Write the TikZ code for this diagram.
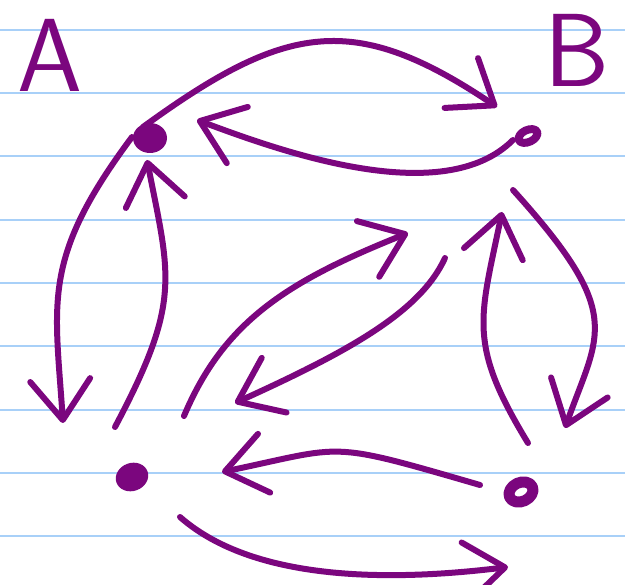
\documentclass[tikz,border=0pt]{standalone}
\usetikzlibrary{arrows.meta,shapes.geometric}
\definecolor{InkPurple}{HTML}{7B067E}
\definecolor{RuleBlue}{HTML}{A8D0F8}

\begin{document}
\begin{tikzpicture}[x=1pt,y=-1pt,line cap=round,line join=round,>={Straight Barb[length=40pt,width=60pt,round]}]
\tikzset{dot/.style={ellipse,fill=InkPurple,inner sep=0pt,minimum width=33pt,minimum height=28pt},
         ring/.style={ellipse,draw=InkPurple,inner sep=0pt},
         arr/.style={->,draw=InkPurple,line width=6pt},
         lbl/.style={text=InkPurple,inner sep=0pt,anchor=base,font=\fontsize{104}{104}\selectfont\sffamily}}
\useasboundingbox[fill=white] (0,0) rectangle (625,585);
% ruled paper
\foreach \i in {0,...,8} \draw[RuleBlue,line width=2pt] (0,{29.7+63.33*\i}) -- (625,{29.7+63.33*\i});
% states
\node[dot,minimum width=34pt,minimum height=30pt] (nA) at (150,138) {};
\node[ring,line width=8pt,minimum width=20pt,minimum height=12pt,rotate=25] (nB) at (528,136) {};
\node[dot,rotate=20] (nC) at (132,477) {};
\node[ring,line width=11pt,minimum width=25pt,minimum height=19pt,rotate=25] (nD) at (521,492) {};
\node[lbl] (labA) at (50,92) {A};
\node[lbl] (labB) at (577,87) {B};
% transitions
\draw[arr] ([shift={(-7,-11)}]nA.center) .. controls +(143,-104) and +(-143,-96) .. ([shift={(-31,-29)}]nB.center);
\draw[arr] ([shift={(-15,4)}]nB.center) .. controls +(-70,70) and +(83,31) .. ([shift={(47,-18)}]nA.center);
\draw[arr] ([shift={(-18,-1)}]nA.center) .. controls +(-91,122) and +(-8,-122) .. ([shift={(-69,-54)}]nC.center);
\draw[arr] ([shift={(-17,-50)}]nC.center) .. controls +(67,-126) and +(23,117) .. ([shift={(-3,22)}]nA.center);
\draw[arr] ([shift={(52,-61)}]nC.center) .. controls +(40,-95) and +(-120,48) .. ([shift={(-120,97)}]nB.center);
\draw[arr] ([shift={(-83,122)}]nB.center) .. controls +(-25,55) and +(110,-50) .. ([shift={(103,-74)}]nC.center);
\draw[arr] ([shift={(7,-49)}]nD.center) .. controls +(-61,-100) and +(-22,107) .. ([shift={(-26,76)}]nB.center);
\draw[arr] ([shift={(-15,54)}]nB.center) .. controls +(113,125) and +(34,-96) .. ([shift={(44,-64)}]nD.center);
\draw[arr] ([shift={(-41,-7)}]nD.center) .. controls +(-155,-45) and +(125,-26) .. ([shift={(90,-5)}]nC.center);
\draw[arr] ([shift={(48,40)}]nC.center) .. controls +(75,66) and +(-113,14) .. ([shift={(-13,75)}]nD.center);
\end{tikzpicture}
\end{document}
